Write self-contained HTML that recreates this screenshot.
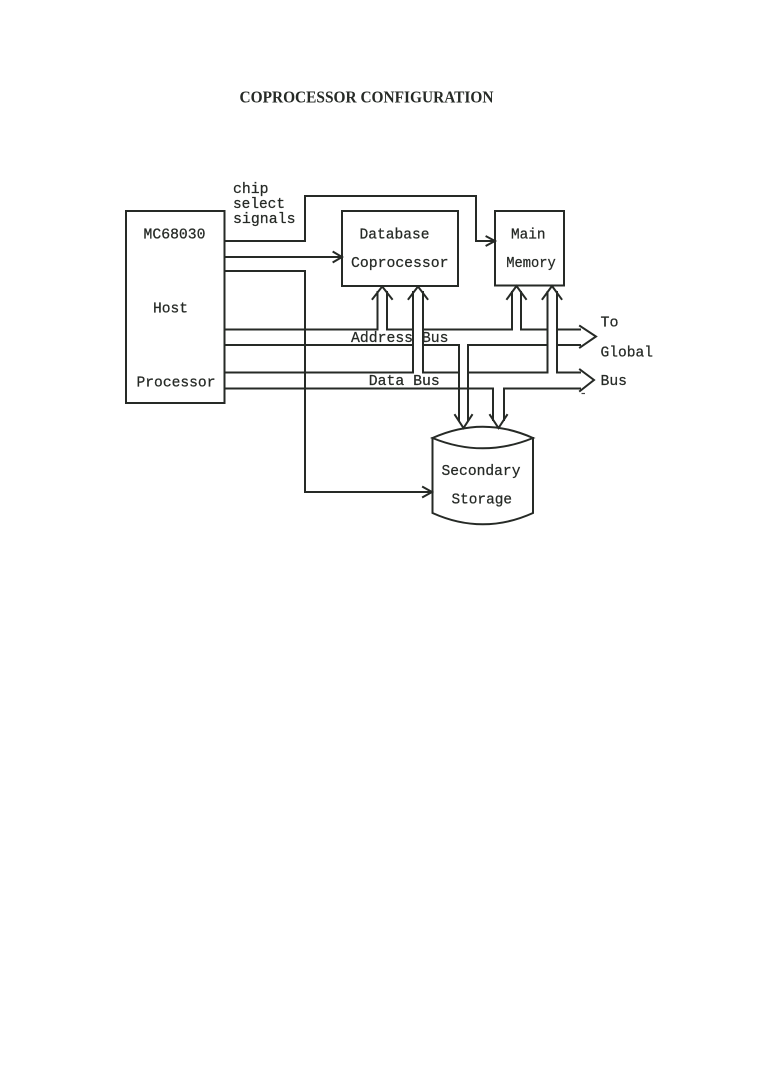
<!DOCTYPE html>
<html>
<head>
<meta charset="utf-8">
<style>
  html, body { margin:0; padding:0; background:#ffffff; }
  body { width:760px; height:1072px; overflow:hidden; }
  svg { display:block; }
  .ln { fill:none; stroke:#262a26; stroke-width:2; stroke-linejoin:miter; stroke-linecap:square; }
  .t { font-family:"Liberation Mono", "DejaVu Sans Mono", monospace; font-size:14.6px; fill:#262a26; stroke:#262a26; stroke-width:0.25; }
  .title { font-family:"Liberation Serif", "DejaVu Serif", serif; font-weight:bold; font-size:16.5px; fill:#262a26; }
</style>
</head>
<body>
<svg width="760" height="1072" viewBox="0 0 760 1072" xmlns="http://www.w3.org/2000/svg">
  <rect x="0" y="0" width="760" height="1072" fill="#ffffff"/>

  <!-- Title -->
  <text class="title" x="239.5" y="102.7" textLength="254" lengthAdjust="spacingAndGlyphs">COPROCESSOR CONFIGURATION</text>

  <!-- Boxes -->
  <rect class="ln" x="126" y="211" width="98.5" height="192"/>
  <rect class="ln" x="342" y="211" width="116" height="75"/>
  <rect class="ln" x="495" y="211" width="69" height="74.5"/>

  <!-- chip select line to Main Memory -->
  <polyline class="ln" points="224.5,241 305,241 305,196 476,196 476,241 495,241"/>
  <polyline class="ln" points="486.5,236.5 495,241 486.5,245.5"/>

  <!-- line to Database Coprocessor -->
  <polyline class="ln" points="224.5,257 342,257"/>
  <polyline class="ln" points="333.5,252 342,257 333.5,262"/>

  <!-- line to Secondary Storage -->
  <polyline class="ln" points="224.5,271 305,271 305,492 432,492"/>
  <polyline class="ln" points="423,487 432,492 423,497"/>

  <!-- Database arrow pair A (address) -->
  <polyline class="ln" points="224.5,329.5 377.5,329.5 377.5,292"/>
  <polyline class="ln" points="387,292 387,329.5 413,329.5"/>
  <polyline class="ln" points="372.5,299 382.2,286.5 392,299"/>

  <!-- Database arrow pair B (data) -->
  <polyline class="ln" points="224.5,372.5 413,372.5 413,292"/>
  <polyline class="ln" points="423,292 423,372.5 459,372.5"/>
  <polyline class="ln" points="408.5,299 418,286.5 427.5,299"/>

  <!-- Main memory pair C (address) -->
  <polyline class="ln" points="423,329.5 512,329.5 512,292"/>
  <polyline class="ln" points="521,292 521,329.5 547.5,329.5"/>
  <polyline class="ln" points="507,299 516.5,286 526,299"/>

  <!-- Main memory pair D (data) -->
  <polyline class="ln" points="468,372.5 547.5,372.5 547.5,292"/>
  <polyline class="ln" points="557,292 557,372.5 580,372.5"/>
  <polyline class="ln" points="542.5,299 552,286 561.5,299"/>

  <!-- Address bus top right end & arrowhead -->
  <polyline class="ln" points="557,329.5 580,329.5"/>
  <polyline class="ln" points="580,326 596,336.5 580,347.5"/>

  <!-- Address bus bottom line -->
  <polyline class="ln" points="224.5,345 413,345"/>
  <polyline class="ln" points="423,345 459,345 459,420"/>
  <polyline class="ln" points="468,420 468,345 547.5,345"/>
  <polyline class="ln" points="557,345 580,345"/>

  <!-- Data bus arrowhead -->
  <polyline class="ln" points="580,369.5 594,380 580,391"/>

  <!-- Data bus bottom line -->
  <polyline class="ln" points="224.5,388.5 493,388.5 493,420"/>
  <polyline class="ln" points="504,420 504,388.5 580,388.5"/>

  <!-- small scan dash -->
  <line x1="581.5" y1="393.5" x2="585" y2="393.5" stroke="#444" stroke-width="1.2"/>

  <!-- Arrows into storage -->
  <polyline class="ln" points="455,415 463.5,428 472,415"/>
  <polyline class="ln" points="490,415 498.5,428 507,415"/>

  <!-- Secondary storage cylinder -->
  <path class="ln" d="M432.5,438 Q482.8,415.4 533,438 Q482.8,458.6 432.5,438 Z"/>
  <path class="ln" d="M432.5,438 L432.5,513 Q482.8,535.6 533,513 L533,438"/>

  <!-- Labels -->
  <text class="t" x="233" y="193" textLength="35.5" lengthAdjust="spacingAndGlyphs">chip</text>
  <text class="t" x="233" y="208" textLength="52" lengthAdjust="spacingAndGlyphs">select</text>
  <text class="t" x="233" y="223" textLength="62.5" lengthAdjust="spacingAndGlyphs">signals</text>

  <text class="t" x="143.5" y="238.5" textLength="62" lengthAdjust="spacingAndGlyphs">MC68030</text>
  <text class="t" x="153" y="312.3" textLength="35" lengthAdjust="spacingAndGlyphs">Host</text>
  <text class="t" x="136.5" y="386.5" textLength="79" lengthAdjust="spacingAndGlyphs">Processor</text>

  <text class="t" x="359.5" y="238.5" textLength="70" lengthAdjust="spacingAndGlyphs">Database</text>
  <text class="t" x="351" y="266.8" textLength="97.5" lengthAdjust="spacingAndGlyphs">Coprocessor</text>

  <text class="t" x="511" y="238.5" textLength="34.5" lengthAdjust="spacingAndGlyphs">Main</text>
  <text class="t" x="506.2" y="266.8" textLength="49.5" lengthAdjust="spacingAndGlyphs">Memory</text>

  <text class="t" x="351" y="341.8" textLength="97.5" lengthAdjust="spacingAndGlyphs">Address Bus</text>
  <text class="t" x="368.8" y="385.2" textLength="71" lengthAdjust="spacingAndGlyphs">Data Bus</text>

  <text class="t" x="600.5" y="326.7" textLength="18" lengthAdjust="spacingAndGlyphs">To</text>
  <text class="t" x="600.5" y="356.7" textLength="52.5" lengthAdjust="spacingAndGlyphs">Global</text>
  <text class="t" x="600.5" y="385.2" textLength="26.5" lengthAdjust="spacingAndGlyphs">Bus</text>

  <text class="t" x="441.5" y="475" textLength="79" lengthAdjust="spacingAndGlyphs">Secondary</text>
  <text class="t" x="451.5" y="503.3" textLength="60.5" lengthAdjust="spacingAndGlyphs">Storage</text>
</svg>
</body>
</html>
